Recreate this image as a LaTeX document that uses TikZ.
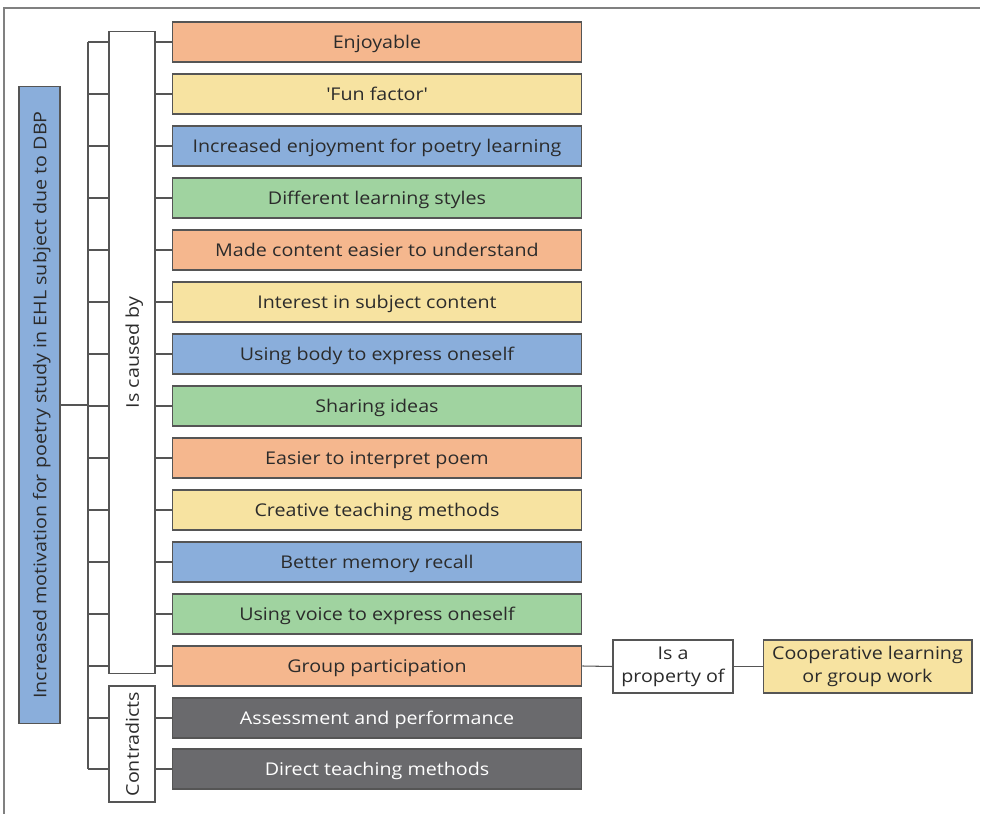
\documentclass[tikz,border=0pt]{standalone}
\usepackage{fontspec}
\setsansfont[FakeStretch=1.12]{Open Sans}
\usepackage{tikz}
\usetikzlibrary{positioning,backgrounds}
\definecolor{cOrange}{HTML}{F5B78E}
\definecolor{cYellow}{HTML}{F7E3A1}
\definecolor{cBlue}{HTML}{8AAEDB}
\definecolor{cGreen}{HTML}{A0D3A0}
\definecolor{cDark}{HTML}{6A6A6D}
\definecolor{cLine}{HTML}{555555}
\definecolor{cText}{HTML}{2B2B2B}
\tikzset{
  item/.style={draw=cLine, line width=0.6pt, minimum width=8.2cm, minimum height=0.8cm, font=\sffamily\fontsize{10}{13}\selectfont, text=cText, inner sep=0pt, text height=8.6pt, text depth=0.9pt},
  relbox/.style={draw=cLine, fill=white, line width=0.6pt, font=\sffamily\fontsize{10}{13}\selectfont, text=cText, inner sep=0pt, align=center},
  link/.style={draw=cLine, line width=0.6pt}
}
\newcommand{\cnode}[4]{%
\node[item, fill=#4] (#1) at (377,#2) {#3};}

\begin{document}
\begin{tikzpicture}[x=0.02cm, y=-0.02cm]
\useasboundingbox (0,0) rectangle (981,814);
\draw[draw=gray, line width=0.7pt] (4,814) -- (4,8) -- (980,8);
\node[relbox, fill=cBlue, rotate=90, minimum width=12.76cm, minimum height=0.82cm, text height=8.6pt, text depth=0.9pt] (root) at (39.5,405) {Increased motivation for poetry study in EHL subject due to DBP};
\coordinate (br) at (88,405);
\node[relbox, rotate=90, minimum width=12.86cm, minimum height=0.92cm, text height=8.6pt, text depth=0.9pt] (caused) at (132,352.5) {Is caused by};
\node[relbox, rotate=90, minimum width=2.32cm, minimum height=0.92cm, text height=8.6pt, text depth=0.9pt] (contra) at (132,744) {Contradicts};
\cnode{e1}{42}{Enjoyable}{cOrange}
\cnode{e2}{94}{\textquotesingle Fun factor\textquotesingle}{cYellow}
\cnode{e3}{146}{Increased enjoyment for poetry learning}{cBlue}
\cnode{e4}{198}{Different learning styles}{cGreen}
\cnode{e5}{250}{Made content easier to understand}{cOrange}
\cnode{e6}{302}{Interest in subject content}{cYellow}
\cnode{e7}{354}{Using body to express oneself}{cBlue}
\cnode{e8}{406}{Sharing ideas}{cGreen}
\cnode{e9}{458}{Easier to interpret poem}{cOrange}
\cnode{e10}{510}{Creative teaching methods}{cYellow}
\cnode{e11}{562}{Better memory recall}{cBlue}
\cnode{e12}{614}{Using voice to express oneself}{cGreen}
\cnode{e13}{666}{Group participation}{cOrange}
\node[item, fill=cDark, text=white] (e14) at (377,718) {Assessment and performance};
\node[item, fill=cDark, text=white] (e15) at (377,769) {Direct teaching methods};
\node[relbox, minimum width=2.4cm, minimum height=1.06cm] (prop) at (673,666.5) {Is a\\property of};
\node[relbox, fill=cYellow, minimum width=4.18cm, minimum height=1.06cm] (coop) at (867.5,666.5) {Cooperative learning\\or group work};
\begin{scope}[on background layer]
\draw[link] (root.south) -- (br);
\draw[link] (e1.west -| br) -- (e15.west -| br);
\draw[link] (e1.west -| br) -- (e1.west);
\draw[link] (e2.west -| br) -- (e2.west);
\draw[link] (e3.west -| br) -- (e3.west);
\draw[link] (e4.west -| br) -- (e4.west);
\draw[link] (e5.west -| br) -- (e5.west);
\draw[link] (e6.west -| br) -- (e6.west);
\draw[link] (e7.west -| br) -- (e7.west);
\draw[link] (e8.west -| br) -- (e8.west);
\draw[link] (e9.west -| br) -- (e9.west);
\draw[link] (e10.west -| br) -- (e10.west);
\draw[link] (e11.west -| br) -- (e11.west);
\draw[link] (e12.west -| br) -- (e12.west);
\draw[link] (e13.west -| br) -- (e13.west);
\draw[link] (e14.west -| br) -- (e14.west);
\draw[link] (e15.west -| br) -- (e15.west);
\draw[link] (e13.east) -- (prop.west);
\draw[link] (prop.east) -- (coop.west);
\end{scope}
\end{tikzpicture}
\end{document}
